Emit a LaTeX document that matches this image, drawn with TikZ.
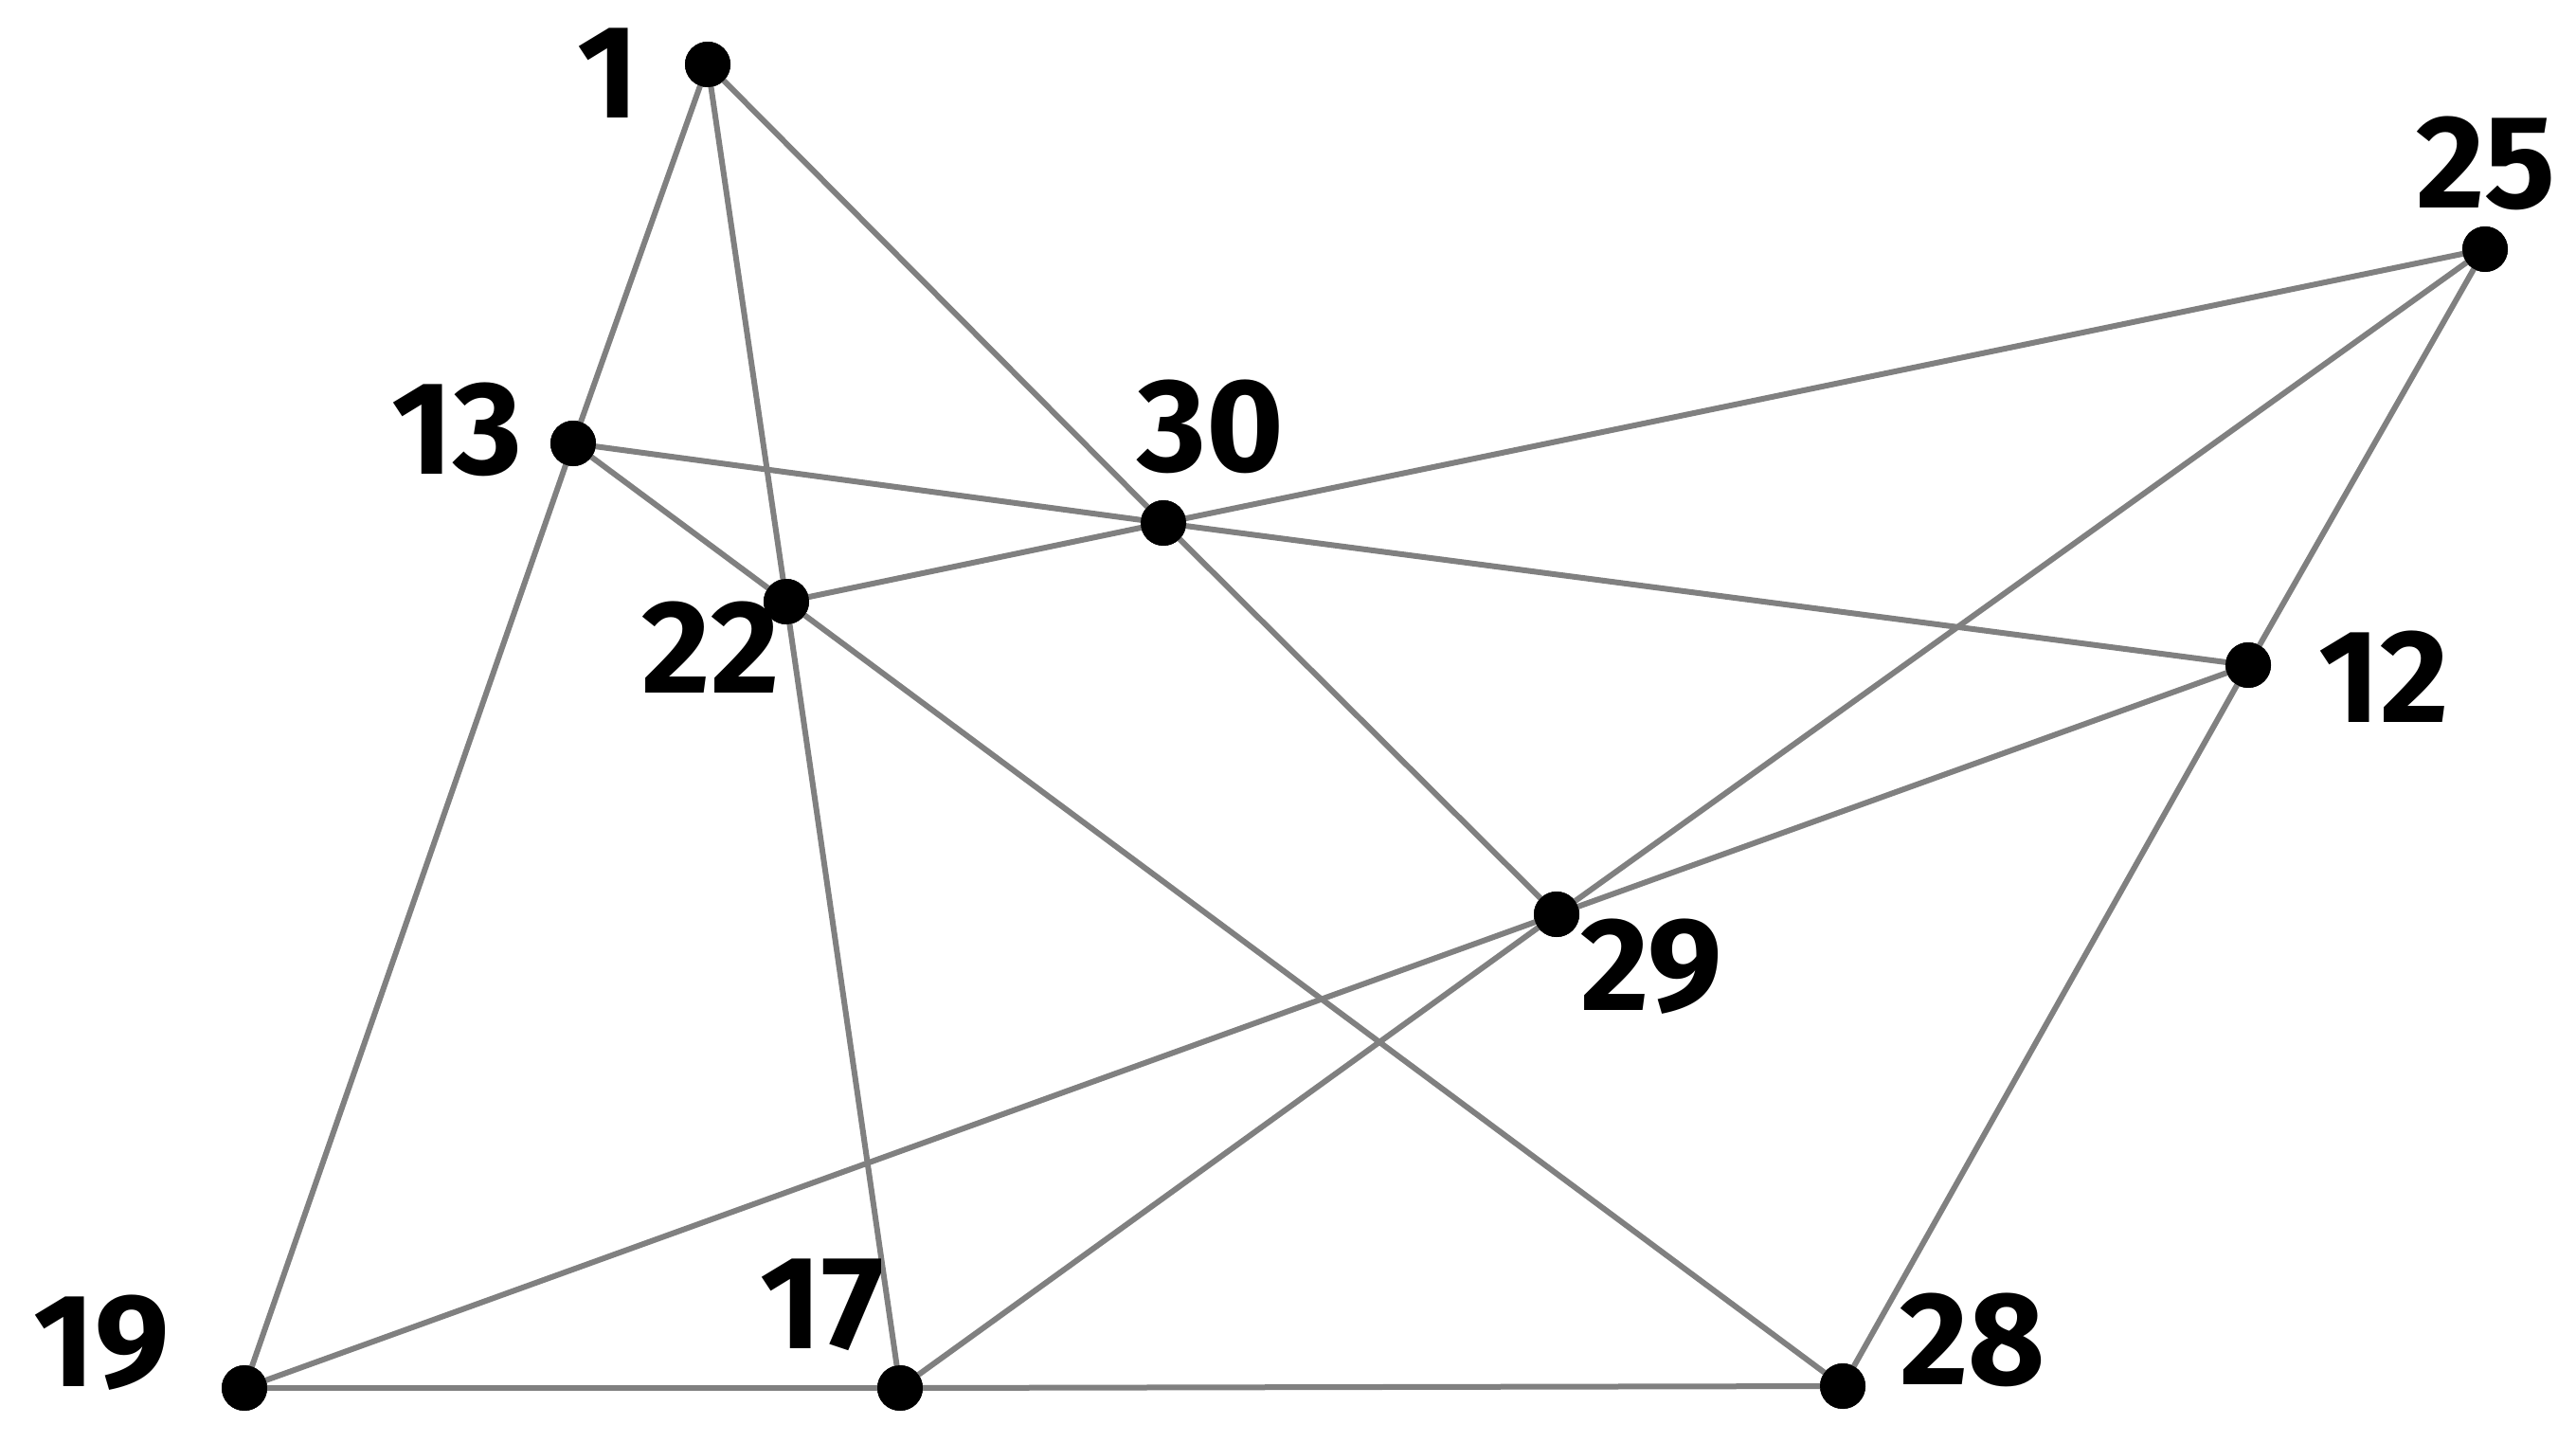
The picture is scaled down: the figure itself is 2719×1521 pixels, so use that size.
\documentclass[tikz,border=0pt]{standalone}
\usepackage{fontspec}
\setmainfont{Fira Sans}
\begin{document}
\begin{tikzpicture}[x=0.25pt,y=-0.25pt,
  dot/.style={circle,fill=black,inner sep=0pt,minimum size=12pt},
  edge/.style={draw=black!50,line width=1.5pt},
  lab/.style={font=\fontsize{35}{35}\selectfont\bfseries,inner sep=0pt}]
\useasboundingbox (0,0) rectangle (2719,1521);
\node[dot] (n1)  at (747,68) {};
\node[dot] (n25) at (2623,263) {};
\node[dot] (n13) at (605,468) {};
\node[dot] (n30) at (1228,552) {};
\node[dot] (n22) at (830,635) {};
\node[dot] (n12) at (2373,702) {};
\node[dot] (n29) at (1643,965) {};
\node[dot] (n19) at (258,1465) {};
\node[dot] (n17) at (950,1465) {};
\node[dot] (n28) at (1945,1463) {};
\foreach \a/\b in {1/13,13/19,1/22,22/17,1/30,30/29,13/30,30/12,13/22,22/28,22/30,30/25,25/29,29/17,25/12,12/28,12/29,29/19,19/17,17/28}
  \draw[edge] (n\a.center) -- (n\b.center);
\foreach \n in {1,25,13,30,22,12,29,19,17,28}
  \fill (n\n.center) circle[radius=6pt];
\node[lab] (l1)  at (642,77) {1};
\node[lab] (l25) at (2624,172) {25};
\node[lab] (l13) at (482,453) {13};
\node[lab] (l30) at (1278,450) {30};
\node[lab] (l22) at (750,683) {22};
\node[lab] (l12) at (2516,714) {12};
\node[lab] (l29) at (1743,1020) {29};
\node[lab] (l19) at (107,1417) {19};
\node[lab] (l17) at (868,1377) {17};
\node[lab] (l28) at (2082,1414) {28};
\end{tikzpicture}
\end{document}
